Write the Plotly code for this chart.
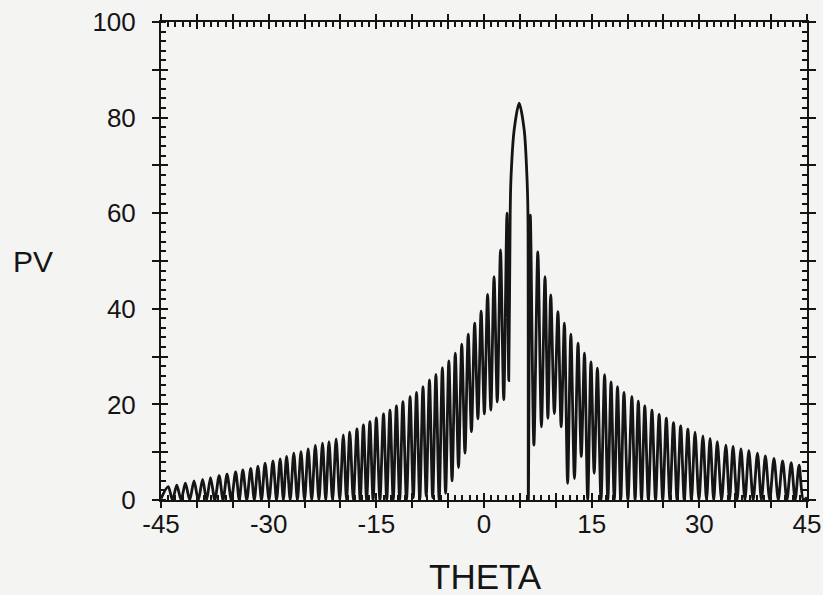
import plotly.graph_objects as go

# ---- data (curve vertices: troughs and lobe peaks) ----
theta = [
    -45.0,
    -44.0, -43.4, -42.8, -42.2, -41.6, -41.0, -40.4, -39.8, -39.2, -38.65,
    -38.1, -37.5, -36.9, -36.35, -35.8, -35.2, -34.6, -34.1, -33.6, -33.05,
    -32.5, -32.0, -31.5, -31.0, -30.5, -29.95, -29.4, -28.9, -28.4, -27.95,
    -27.5, -27.0, -26.5, -26.0, -25.5, -25.0, -24.5, -24.0, -23.5, -23.0,
    -22.5, -22.05, -21.6, -21.1, -20.6, -20.1, -19.6, -19.15, -18.7, -18.2,
    -17.7, -17.25, -16.8, -16.35, -15.9, -15.45, -15.0, -14.5, -14.0, -13.55,
    -13.1, -12.65, -12.2, -11.75, -11.3, -10.8, -10.3, -9.85, -9.4, -8.95,
    -8.5, -8.05, -7.6, -7.15, -6.7, -6.25, -5.8, -5.35, -4.9, -4.45,
    -4.0, -3.55, -3.1, -2.65, -2.2, -1.75, -1.3, -0.85, -0.4, 0.05,
    0.5, 0.95, 1.4, 1.85, 2.3, 2.75, 3.2, 3.45,
    3.65, 3.75, 4.2, 4.9, 5.6, 6.0, 6.12, 6.18,
    6.45, 6.95, 7.5, 8.0, 8.5, 8.9, 9.3, 9.8, 10.3, 10.75,
    11.2, 11.65, 12.1, 12.6, 13.1, 13.55, 14.0, 14.45, 14.9, 15.35,
    15.8, 16.3, 16.8, 17.25, 17.7, 18.15, 18.6, 19.05, 19.5, 20.05,
    20.6, 21.05, 21.5, 21.95, 22.4, 22.9, 23.4, 23.9, 24.4, 24.9,
    25.4, 25.9, 26.4, 26.9, 27.4, 27.9, 28.4, 28.9, 29.4, 29.95,
    30.5, 31.0, 31.5, 32.0, 32.5, 33.1, 33.7, 34.2, 34.7, 35.25,
    35.8, 36.35, 36.9, 37.5, 38.1, 38.65, 39.2, 39.8, 40.4, 41.0,
    41.6, 42.2, 42.8, 43.35, 43.9, 44.5, 45.0,
]
pv = [
    0.3,
    2.8, 0, 3.1, 0, 3.5, 0, 4.0, 0, 4.3, 0,
    4.7, 0, 5.1, 0, 5.4, 0, 5.9, 0, 6.3, 0,
    6.6, 0, 7.1, 0, 7.7, 0, 8.2, 0, 8.6, 0,
    9.1, 0, 9.8, 0, 10.1, 0, 10.7, 0, 11.4, 0,
    11.9, 0, 12.2, 0, 12.8, 0, 13.6, 0, 14.2, 0,
    14.9, 0, 15.7, 0, 16.4, 0, 17.2, 0, 18.0, 0,
    18.8, 0, 19.7, 0, 20.6, 0, 21.6, 0.5, 22.5, 0,
    23.7, 0.8, 25.1, 0.5, 26.3, 0, 27.7, 1.4, 29.1, 4.0,
    30.7, 6.8, 32.6, 9.8, 34.7, 14.3, 37.0, 17.0, 39.5, 18.0,
    43.0, 18.8, 46.7, 20.5, 52.3, 21.0, 60.0, 25.0,
    60.0, 67.0, 77.4, 83.0, 77.4, 67.0, 60.0, 0,
    59.6, 11.5, 51.9, 15.3, 46.7, 17.1, 42.9, 18.1, 39.4, 15.3,
    37.0, 3.5, 34.7, 4.5, 32.8, 9.1, 30.7, 0, 28.9, 5.6,
    27.6, 0, 26.2, 0, 24.7, 0, 23.7, 0, 22.5, 0,
    21.6, 0, 20.7, 0, 19.7, 0, 18.8, 0, 17.9, 0,
    17.1, 0, 16.2, 0, 15.5, 0, 14.8, 0, 14.2, 0,
    13.4, 0, 12.9, 0, 12.2, 0, 11.5, 0, 11.2, 0,
    10.7, 0, 10.3, 0, 9.8, 0, 9.2, 0, 8.7, 0,
    8.2, 0, 7.8, 0, 7.3, 0, 0.5,
]

x_tick_vals = [-45, -40, -35, -30, -25, -20, -15, -10, -5, 0, 5, 10, 15, 20, 25, 30, 35, 40, 45]
x_tick_text = ["-45", "", "", "-30", "", "", "-15", "", "", "0", "", "", "15", "", "", "30", "", "", "45"]
y_tick_vals = [0, 10, 20, 30, 40, 50, 60, 70, 80, 90, 100]
y_tick_text = ["0", "", "20", "", "40", "", "60", "", "80", "", "100"]

INK = "#151515"
BG = "#f4f4f2"
FONT = "Liberation Sans"

fig = go.Figure()
fig.add_trace(go.Scatter(
    x=theta, y=pv, mode="lines",
    line=dict(color=INK, width=2.8, shape="spline", smoothing=0.8),
    showlegend=False, hoverinfo="skip",
))
# helper trace so the overlay axes (other halves of the crossing major ticks) are drawn
fig.add_trace(go.Scatter(x=[None], y=[None], xaxis="x2", yaxis="y2",
                         mode="lines", showlegend=False, hoverinfo="skip"))

fig.update_layout(
    width=823, height=595,
    margin=dict(l=161, r=16, t=22, b=95, autoexpand=False),
    paper_bgcolor=BG, plot_bgcolor=BG,
    font=dict(family=FONT, color=INK, size=26),
    xaxis=dict(
        range=[-45, 45], tickmode="array", tickvals=x_tick_vals, ticktext=x_tick_text,
        ticks="inside", ticklen=7, tickwidth=2, tickcolor=INK,
        minor=dict(ticks="inside", tick0=-45, dtick=1, ticklen=5, tickwidth=1.5, tickcolor=INK, showgrid=False),
        showline=True, linewidth=2, linecolor=INK, mirror="allticks", automargin=False,
        showgrid=False, zeroline=False, tickfont=dict(size=26, family=FONT, color=INK),
    ),
    yaxis=dict(
        range=[0, 100], tickmode="array", tickvals=y_tick_vals, ticktext=y_tick_text,
        ticks="outside", ticklen=7, tickwidth=2, tickcolor=INK, ticklabelstandoff=11,
        minor=dict(ticks="inside", tick0=0, dtick=2, ticklen=5, tickwidth=1.5, tickcolor=INK, showgrid=False),
        showline=True, linewidth=2, linecolor=INK, mirror="allticks", automargin=False,
        showgrid=False, zeroline=False, tickfont=dict(size=26, family=FONT, color=INK),
    ),
    xaxis2=dict(
        overlaying="x", anchor="y2", range=[-45, 45], tickmode="array", tickvals=x_tick_vals,
        ticks="outside", ticklen=7, tickwidth=2, tickcolor=INK, showticklabels=False,
        mirror="allticks", showline=False, showgrid=False, zeroline=False, side="bottom",
        automargin=False,
    ),
    yaxis2=dict(
        overlaying="y", anchor="x2", range=[0, 100], tickmode="array", tickvals=y_tick_vals,
        ticks="inside", ticklen=7, tickwidth=2, tickcolor=INK, showticklabels=False,
        mirror="allticks", showline=False, showgrid=False, zeroline=False, side="left",
        automargin=False,
    ),
    annotations=[
        dict(text="PV", xref="paper", yref="paper", x=-0.198, y=0.5,
             xanchor="center", yanchor="middle", showarrow=False,
             font=dict(size=30, family=FONT, color=INK)),
        dict(text="THETA", xref="paper", yref="paper", x=0.503, y=-0.161,
             xanchor="center", yanchor="middle", showarrow=False,
             font=dict(size=35, family=FONT, color=INK)),
    ],
)

fig.write_html("out.html")
